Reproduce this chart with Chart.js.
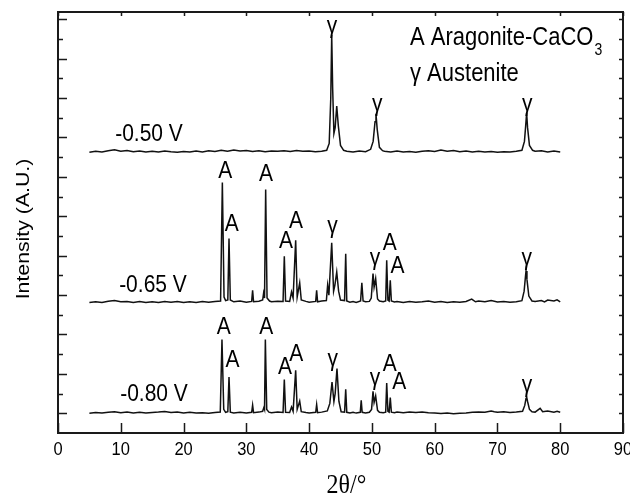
<!DOCTYPE html>
<html>
<head>
<meta charset="utf-8">
<script src="https://cdn.jsdelivr.net/npm/chart.js@4.4.1/dist/chart.umd.min.js"></script>
<style>
  html, body { margin: 0; padding: 0; background: #fff; }
  canvas { display: block; }
</style>
</head>
<body>
<canvas id="chart" width="630" height="498"></canvas>
<script>
// 2theta (deg) vs intensity (A.U., traces stacked with offsets)
const scan050 = [
  [5, 14.25], [6, 14.30], [7, 14.27], [8, 14.33], [9, 14.38], [10, 14.30], [11, 14.34], [12, 14.28],
  [13, 14.31], [14, 14.26], [15, 14.30], [16, 14.27], [17, 14.32], [18, 14.28], [19, 14.25], [20, 14.29],
  [21, 14.26], [22, 14.31], [23, 14.27], [24, 14.33], [25, 14.29], [26, 14.35], [27, 14.30], [28, 14.36],
  [29, 14.31], [30, 14.34], [31, 14.29], [32, 14.33], [33, 14.28], [34, 14.32], [35, 14.30], [36, 14.33],
  [37, 14.29], [38, 14.34], [39, 14.30], [40, 14.32], [41, 14.28], [42, 14.30], [42.8, 14.35], [43.2, 14.7],
  [43.45, 17.0], [43.6, 20.2], [43.75, 17.5], [43.95, 15.2], [44.15, 15.5], [44.4, 16.6], [44.65, 15.6],
  [45, 14.6], [45.5, 14.35], [46, 14.30], [47, 14.27], [48, 14.32], [49, 14.28], [49.8, 14.40], [50.2, 14.8],
  [50.5, 15.8], [50.65, 16.2], [50.85, 15.4], [51.2, 14.5], [51.7, 14.33], [52, 14.30], [53, 14.27],
  [54, 14.31], [55, 14.26], [56, 14.29], [57, 14.25], [58, 14.30], [59, 14.33], [60, 14.29], [61, 14.36],
  [62, 14.30], [63, 14.34], [64, 14.28], [65, 14.31], [66, 14.27], [67, 14.30], [68, 14.26], [69, 14.29],
  [70, 14.25], [71, 14.28], [72, 14.26], [73, 14.30], [73.9, 14.35], [74.3, 14.8], [74.5, 15.6], [74.65, 16.24],
  [74.8, 15.5], [75.1, 14.6], [75.6, 14.35], [76, 14.30], [77, 14.33], [78, 14.27], [79, 14.31], [80, 14.26]
];

const scan065 = [
  [5, 6.62], [6, 6.66], [7, 6.63], [8, 6.69], [9, 6.72], [10, 6.66], [11, 6.68], [12, 6.63], [13, 6.67],
  [14, 6.62], [15, 6.66], [16, 6.63], [17, 6.68], [18, 6.64], [19, 6.67], [20, 6.62], [21, 6.66], [22, 6.63],
  [23, 6.67], [24, 6.64], [25, 6.68], [25.9, 6.70], [26.18, 12.71], [26.45, 6.9], [26.7, 6.72], [27.05, 6.75],
  [27.24, 9.87], [27.45, 6.75], [28, 6.66], [29, 6.70], [30, 6.64], [30.85, 6.68], [31.0, 7.24], [31.15, 6.66],
  [32, 6.69], [32.6, 6.75], [32.75, 7.1], [32.9, 6.85], [33.08, 12.36], [33.3, 6.85], [33.7, 6.70], [34, 6.66],
  [35, 6.69], [35.85, 6.68], [36.05, 8.97], [36.25, 6.70], [36.9, 6.68], [37.2, 7.16], [37.45, 6.85],
  [37.86, 9.78], [38.1, 6.9], [38.5, 7.62], [38.75, 6.75], [39.5, 6.68], [40, 6.64], [41.05, 6.68], [41.2, 7.24],
  [41.35, 6.66], [42, 6.70], [42.75, 6.72], [42.95, 7.5], [43.15, 7.0], [43.6, 9.66], [43.9, 7.2], [44.1, 7.5],
  [44.4, 8.17], [44.7, 7.2], [45.0, 6.75], [45.65, 6.72], [45.83, 9.1], [46.0, 6.70], [46.5, 6.64], [47, 6.67],
  [47.5, 6.63], [48.2, 6.70], [48.4, 7.63], [48.6, 6.70], [49, 6.66], [49.6, 6.68], [49.9, 6.85], [50.18, 8.09],
  [50.35, 7.4], [50.6, 7.84], [50.9, 6.8], [51.2, 6.70], [51.8, 6.66], [52.2, 6.70], [52.36, 8.77], [52.55, 6.75],
  [52.75, 6.70], [52.93, 7.75], [53.1, 6.70], [53.6, 6.65], [54, 6.68], [55, 6.63], [56, 6.67], [57, 6.64],
  [58, 6.66], [59, 6.70], [60, 6.64], [61, 6.67], [62, 6.63], [63, 6.66], [64, 6.64], [65, 6.68], [65.9, 6.80],
  [66.5, 6.66], [67, 6.70], [68, 6.66], [69, 6.72], [70, 6.65], [71, 6.68], [72, 6.64], [73, 6.66], [73.9, 6.72],
  [74.25, 7.2], [74.45, 7.9], [74.55, 8.22], [74.7, 7.8], [75.0, 6.95], [75.5, 6.70], [76, 6.67], [77, 6.72],
  [77.5, 6.65], [78, 6.75], [79, 6.70], [79.5, 6.76], [80, 6.66]
];

const scan080 = [
  [5, 1.00], [6, 1.04], [7, 1.01], [8, 1.05], [9, 1.08], [10, 1.03], [11, 1.06], [12, 1.02], [13, 1.05],
  [14, 1.01], [15, 1.04], [16, 1.06], [17, 1.09], [18, 1.04], [19, 1.06], [20, 1.02], [21, 1.05], [22, 1.01],
  [23, 1.03], [24, 1.00], [25, 1.04], [25.85, 1.06], [26.12, 4.74], [26.4, 1.2], [26.7, 1.05], [27.05, 1.08],
  [27.24, 2.84], [27.45, 1.06], [28, 1.02], [29, 1.05], [30, 1.01], [30.85, 1.05], [31.0, 1.41], [31.15, 1.03],
  [32, 1.06], [32.6, 1.10], [32.8, 1.3], [32.9, 1.2], [33.03, 4.74], [33.25, 1.2], [33.6, 1.06], [34, 1.03],
  [35, 1.06], [35.85, 1.04], [36.05, 2.71], [36.25, 1.05], [36.9, 1.04], [37.2, 1.32], [37.45, 1.1],
  [37.86, 3.18], [38.1, 1.2], [38.5, 1.62], [38.75, 1.08], [39.5, 1.04], [40, 1.02], [41.05, 1.05], [41.2, 1.44],
  [41.35, 1.03], [42, 1.06], [42.9, 1.12], [43.3, 1.5], [43.65, 2.59], [43.95, 1.6], [44.15, 2.0], [44.44, 3.27],
  [44.75, 1.6], [45.1, 1.08], [45.65, 1.06], [45.83, 2.22], [46.0, 1.05], [46.5, 1.02], [47, 1.05], [47.5, 1.01],
  [48.15, 1.05], [48.3, 1.66], [48.45, 1.05], [49, 1.02], [49.6, 1.05], [49.95, 1.2], [50.18, 2.12], [50.35, 1.55],
  [50.6, 1.88], [50.9, 1.15], [51.2, 1.05], [51.8, 1.03], [52.2, 1.06], [52.36, 2.54], [52.55, 1.1], [52.75, 1.06],
  [52.93, 1.8], [53.1, 1.06], [53.6, 1.03], [54, 1.06], [55, 1.03], [56, 1.07], [57, 1.04], [58, 1.06], [59, 1.03],
  [60, 1.01], [61, 0.99], [62, 1.01], [63, 0.98], [64, 1.00], [65, 1.02], [66, 1.05], [67, 1.07], [68, 1.05],
  [69, 1.12], [69.5, 1.08], [70, 1.05], [71, 1.08], [72, 1.04], [73, 1.06], [74, 1.10], [74.35, 1.4], [74.55, 1.75],
  [74.65, 1.83], [74.8, 1.6], [75.1, 1.2], [75.5, 1.08], [76, 1.06], [76.8, 1.25], [77.2, 1.08], [78, 1.12],
  [79, 1.06], [79.5, 1.10], [80, 1.05]
];

// phase markers: [text, 2theta, intensity]
const phaseLabels = [
  ['γ', 43.64, 20.65], ['γ', 50.84, 16.69], ['γ', 74.74, 16.69],
  ['A', 26.65, 13.30], ['A', 27.67, 10.59], ['A', 33.13, 13.13], ['A', 36.32, 9.73], ['A', 37.91, 10.72],
  ['γ', 43.72, 10.49], ['γ', 50.49, 8.87], ['A', 52.84, 9.65], ['A', 54.08, 8.48], ['γ', 74.66, 8.87],
  ['A', 26.39, 5.34], ['A', 27.80, 3.68], ['A', 33.18, 5.34], ['A', 36.16, 3.31], ['A', 37.96, 3.99],
  ['γ', 43.77, 3.74], ['γ', 50.49, 2.80], ['A', 52.84, 3.49], ['A', 54.37, 2.55], ['γ', 74.71, 2.42]
];

// potential labels: [text, 2theta, intensity]
const potentialLabels = [
  ['-0.50 V', 14.5, 15.16],
  ['-0.65 V', 15.13, 7.50],
  ['-0.80 V', 15.29, 1.96]
];

const xTicks = [0, 10, 20, 30, 40, 50, 60, 70, 80, 90];
const yTicks = [1, 2, 3, 4, 5, 6, 7, 8, 9, 10, 11, 12, 13, 14, 15, 16, 17, 18, 19, 20, 21];

const SANS = '"Liberation Sans", Arial, sans-serif';
const SERIF = '"Liberation Serif", "Times New Roman", serif';
const STRETCH = 1.15;
const INK = '#000';

function toPoints(arr) {
  return arr.map(function (p) { return { x: p[0], y: p[1] }; });
}

function text(ctx, str, x, y, size, align, family, rotated) {
  ctx.save();
  ctx.translate(x, y);
  if (rotated) {
    ctx.rotate(-Math.PI / 2);
    ctx.scale(STRETCH, 1);
  } else {
    ctx.scale(1, STRETCH);
  }
  ctx.font = size + 'px ' + (family || SANS);
  ctx.textAlign = align || 'center';
  ctx.textBaseline = 'middle';
  ctx.fillStyle = INK;
  ctx.fillText(str, 0, 0);
  ctx.restore();
}

const framePlugin = {
  id: 'frame',
  afterDraw: function (chart) {
    const ctx = chart.ctx;
    const a = chart.chartArea;
    const xs = chart.scales.x;
    const ys = chart.scales.y;

    ctx.save();
    ctx.strokeStyle = '#1a1a1a';
    ctx.lineWidth = 2;
    ctx.strokeRect(a.left, a.top, a.right - a.left, a.bottom - a.top);

    ctx.lineWidth = 1.5;
    ctx.beginPath();
    yTicks.forEach(function (v) {
      const y = Math.round(ys.getPixelForValue(v)) + 0.5;
      const len = v % 2 === 1 ? 9 : 5;
      ctx.moveTo(a.left, y); ctx.lineTo(a.left + len, y);
      ctx.moveTo(a.right, y); ctx.lineTo(a.right - 4, y);
    });
    xTicks.forEach(function (v) {
      const x = Math.round(xs.getPixelForValue(v)) + 0.5;
      ctx.moveTo(x, a.bottom); ctx.lineTo(x, a.bottom - 10);
      ctx.moveTo(x, a.top); ctx.lineTo(x, a.top + 4);
    });
    ctx.stroke();
    ctx.restore();

    xTicks.forEach(function (v) {
      text(ctx, String(v), xs.getPixelForValue(v), a.bottom + 17, 16.5);
    });
    text(ctx, '2θ/°', (a.left + a.right) / 2 + 6, a.bottom + 53, 24, 'center', SERIF);
    text(ctx, 'Intensity (A.U.)', 24, 229, 18.5, 'center', SANS, true);

    phaseLabels.forEach(function (l) {
      text(ctx, l[0], xs.getPixelForValue(l[1]), ys.getPixelForValue(l[2]), 21);
    });
    potentialLabels.forEach(function (l) {
      text(ctx, l[0], xs.getPixelForValue(l[1]), ys.getPixelForValue(l[2]), 21);
    });

    // key
    const kx = xs.getPixelForValue(56.07);
    const l1 = 'A Aragonite-CaCO';
    text(ctx, l1, kx, 38, 22, 'left');
    ctx.save();
    ctx.font = '22px ' + SANS;
    const w1 = ctx.measureText(l1).width;
    ctx.restore();
    text(ctx, '3', kx + w1 + 1, 51, 14, 'left');
    text(ctx, 'γ Austenite', kx, 74, 22, 'left');
  }
};

const lineStyle = {
  showLine: true,
  borderColor: '#111',
  backgroundColor: '#111',
  borderWidth: 1.5,
  pointRadius: 0,
  tension: 0
};

new Chart(document.getElementById('chart').getContext('2d'), {
  type: 'scatter',
  data: {
    datasets: [
      Object.assign({ label: '-0.50 V', data: toPoints(scan050) }, lineStyle),
      Object.assign({ label: '-0.65 V', data: toPoints(scan065) }, lineStyle),
      Object.assign({ label: '-0.80 V', data: toPoints(scan080) }, lineStyle)
    ]
  },
  options: {
    responsive: false,
    animation: false,
    layout: { padding: { left: 58, right: 7, top: 12, bottom: 65 } },
    scales: {
      x: { type: 'linear', min: 0, max: 90, display: false },
      y: { type: 'linear', min: 0, max: 21.37, display: false }
    },
    plugins: {
      legend: { display: false },
      tooltip: { enabled: false }
    }
  },
  plugins: [framePlugin]
});
</script>
</body>
</html>
